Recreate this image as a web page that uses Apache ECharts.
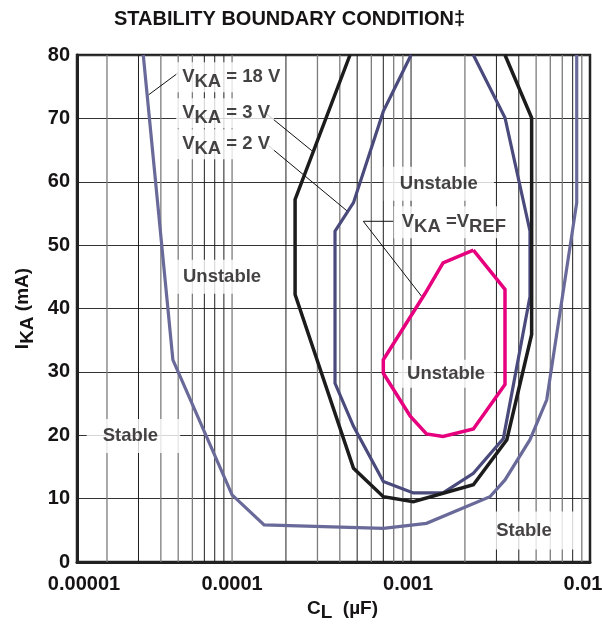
<!DOCTYPE html>
<html><head><meta charset="utf-8">
<script src="https://cdn.jsdelivr.net/npm/echarts@6/dist/echarts.min.js"></script>
<style>html,body{margin:0;padding:0;background:#fff}#c{width:602px;height:632px}</style>
</head><body><div id="c"></div>
<script>
// ---- data (C_L in µF, I_KA in mA) ----
const vka18C = [3.19e-5, 4.67e-5, 1.0e-4, 1.51e-4, 7.0e-4, 1.22e-3, 2.76e-3, 3.35e-3, 4.62e-3, 5.73e-3, 8.43e-3, 8.43e-3];
const vka18I = [80, 31.9, 10.6, 5.85, 5.3, 6.1, 10.3, 12.95, 19.3, 25.6, 56.7, 80];
const vka3C = [4.56e-4, 2.25e-4, 2.25e-4, 4.77e-4, 7.0e-4, 1.03e-3, 2.23e-3, 3.43e-3, 4.72e-3, 4.72e-3, 3.35e-3];
const vka3I = [80, 57.2, 42.2, 14.8, 10.3, 9.5, 12.2, 19.3, 35.9, 70.1, 80];
const vka2C = [1.0e-3, 7.0e-4, 4.77e-4, 3.76e-4, 3.76e-4, 4.77e-4, 7.0e-4, 1.03e-3, 1.51e-3, 2.23e-3, 3.28e-3, 4.62e-3, 4.62e-3, 3.35e-3, 2.23e-3];
const vka2I = [80, 71.1, 56.7, 52.2, 28.2, 21.4, 12.7, 10.9, 10.9, 14.0, 19.5, 41.9, 52.2, 70.1, 80];
const vrefC = [2.23e-3, 1.51e-3, 1.20e-3, 7.0e-4, 7.0e-4, 9.9e-4, 1.22e-3, 1.51e-3, 2.23e-3, 3.35e-3, 3.35e-3, 2.23e-3];
const vrefI = [49.2, 47.2, 42.4, 31.9, 29.8, 23.0, 20.2, 19.8, 21.0, 28.0, 43.0, 49.2];

// axis
const xMin = 1.36e-5, xMax = 1e-2;
const xTickLabels = ['0.00001', '0.0001', '0.001', '0.01'];
const yTicks = [0, 10, 20, 30, 40, 50, 60, 70, 80];
const gridDark = [3e-5, 7e-5, 8e-5, 9e-5, 2e-4, 5e-4, 7e-4, 1e-3, 3e-3, 4e-3, 8e-3];
const gridLight = [2e-5, 4e-5, 5e-5, 6e-5, 1e-4, 3e-4, 4e-4, 6e-4, 8e-4, 9e-4, 2e-3, 5e-3, 6e-3, 7e-3, 9e-3];

// annotations (anchor in data coordinates)
const annoText = [
  '{m|V}{s|KA}{m| = 18 V}',
  '{m|V}{s|KA}{m| = 3 V}',
  '{m|V}{s|KA}{m| = 2 V}',
  '{m|V}{s|KA}{m| =V}{s|REF}',
  'Unstable', 'Unstable', 'Unstable', 'Stable', 'Stable'
];
const annoC = [4.87e-5, 4.87e-5, 4.87e-5, 8.0e-4, 1.43e-3, 8.79e-5, 1.57e-3, 2.81e-5, 4.74e-3];
const annoI = [76.5, 70.8, 65.9, 53.6, 59.7, 45.0, 29.7, 19.9, 4.98];
const leader18 = [[5.01e-5, 77.2], [3.41e-5, 73.7]];
const leader3 = [[1.53e-4, 70.9], [2.79e-4, 64.9]];
const leader2 = [[1.596e-4, 65.7], [4.39e-4, 55.4]];
const leaderRef = [[7.96e-4, 53.76], [5.41e-4, 53.76], [1.148e-3, 41.9]];

// ---- styles ----
const FONT = "'Liberation Sans', Arial, Helvetica, sans-serif";
const INK = '#151314';
const AF = 18.5;
const rich = {
  m: {fontFamily: FONT, fontSize: AF, fontWeight: 'bold', color: INK, lineHeight: 28},
  s: {fontFamily: FONT, fontSize: AF, fontWeight: 'bold', color: INK, lineHeight: 16, verticalAlign: 'bottom'}
};
const annoStyle = [
  {position: 'right', padding: [1, 4, 1, 6]},
  {position: 'right', padding: [1, 4, 1, 6]},
  {position: 'right', padding: [1, 4, 1, 6]},
  {position: 'right', padding: [2, 6, 2, 8]},
  {position: 'inside', padding: [6, 16, 6, 16]},
  {position: 'inside', padding: [6, 10, 6, 10]},
  {position: 'inside', padding: [3, 9, 3, 9]},
  {position: 'inside', padding: [6, 22, 6, 16]},
  {position: 'inside', padding: [8, 24, 8, 8]}
];
const tickRich = (pl, pr) => ({fontFamily: FONT, fontSize: 20, fontWeight: 'bold', color: INK, padding: [0, pr, 0, pl]});

const pairs = (xs, ys) => xs.map((x, i) => [x, ys[i]]);
const curve = (name, xs, ys, color, w) => ({
  name, type: 'line', data: pairs(xs, ys), showSymbol: false, symbol: 'none',
  lineStyle: {color, width: w, join: 'miter'}, z: 5, silent: true
});
const leader = (d) => ({
  type: 'line', data: d, showSymbol: false, symbol: 'none',
  lineStyle: {color: '#111', width: 1}, z: 4, silent: true
});
const vGrid = (v, color, w) => ({
  type: 'line', data: [[v, yTicks[0]], [v, yTicks[yTicks.length - 1]]],
  showSymbol: false, symbol: 'none', silent: true, z: 1,
  lineStyle: {color, width: w}
});

const chart = echarts.init(document.getElementById('c'));
chart.setOption({
  animation: false,
  backgroundColor: '#fff',
  title: {
    text: 'STABILITY BOUNDARY CONDITION‡',
    left: 114, top: 9, padding: 0,
    textStyle: {fontFamily: FONT, fontSize: 20, fontWeight: 'bold', color: INK}
  },
  grid: {left: 77, right: 12, top: 55, bottom: 70, containLabel: false, outerBoundsMode: 'none',
         show: true, borderColor: '#222', borderWidth: 2.5, backgroundColor: 'transparent'},
  xAxis: {
    type: 'log', logBase: 10, min: xMin, max: xMax,
    axisLine: {show: true, lineStyle: {color: '#222', width: 3}},
    axisTick: {show: false},
    splitLine: {show: false},
    axisLabel: {
      margin: 12,
      fontFamily: FONT, fontSize: 20, fontWeight: 'bold', color: INK,
      formatter: v => {
        const e = Math.round(Math.log10(v));
        const k = Math.max(0, Math.min(3, e + 5));
        return '{t' + k + '|' + xTickLabels[k] + '}';
      },
      rich: {t0: tickRich(14, 0), t1: tickRich(0, 0), t2: tickRich(0, 6), t3: tickRich(0, 14)}
    },
    name: '{m|C}{s|L}{m|  (µF)}',
    nameLocation: 'middle', nameGap: 30,
    nameTextStyle: {padding: [0, 0, 0, 18], rich: {
      m: {fontFamily: FONT, fontSize: 19, fontWeight: 'bold', color: INK, lineHeight: 28},
      s: {fontFamily: FONT, fontSize: 19, fontWeight: 'bold', color: INK, lineHeight: 16, verticalAlign: 'bottom'}
    }}
  },
  yAxis: {
    type: 'value', min: yTicks[0], max: yTicks[yTicks.length - 1], interval: 10,
    axisLine: {show: true, lineStyle: {color: '#222', width: 3}},
    axisTick: {show: false},
    splitLine: {show: true, lineStyle: {color: '#333', width: 1}},
    axisLabel: {margin: 7, fontFamily: FONT, fontSize: 20, fontWeight: 'bold', color: INK},
    name: '{m|I}{s|KA}{m| (mA)}',
    nameLocation: 'middle', nameRotate: 90, nameGap: 40,
    nameTextStyle: {rich: {
      m: {fontFamily: FONT, fontSize: 19, fontWeight: 'bold', color: INK, lineHeight: 28},
      s: {fontFamily: FONT, fontSize: 19, fontWeight: 'bold', color: INK, lineHeight: 16, verticalAlign: 'bottom'}
    }}
  },
  series: []
    .concat(gridLight.map(v => vGrid(v, '#7c7c7c', 1.3)))
    .concat(gridDark.map(v => vGrid(v, '#1e1e1e', 1)))
    .concat([
      {
        type: 'scatter', symbolSize: 0, z: 8, silent: true,
        data: annoText.map((t, i) => ({
          value: [annoC[i], annoI[i]],
          label: Object.assign({
            show: true, distance: 0, backgroundColor: '#fff',
            fontFamily: FONT, fontSize: AF, fontWeight: 'bold', color: INK, lineHeight: 22,
            formatter: () => annoText[i], rich
          }, annoStyle[i])
        }))
      },
      leader(leader18), leader(leader3), leader(leader2), leader(leaderRef),
      curve('VKA = 18 V', vka18C, vka18I, '#6a6a9a', 3.2),
      curve('VKA = 2 V', vka2C, vka2I, '#4a4a7c', 3.2),
      curve('VKA = 3 V', vka3C, vka3I, '#1c1c1c', 3.5),
      curve('VKA = VREF', vrefC, vrefI, '#e6007e', 3.5)
    ])
});
</script></body></html>
